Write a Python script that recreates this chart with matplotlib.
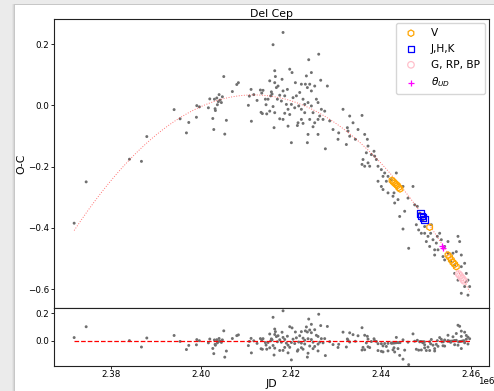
import numpy as np
import matplotlib
matplotlib.use("Agg")
import matplotlib.pyplot as plt
from matplotlib.patches import Rectangle
from matplotlib.ticker import FuncFormatter

# ---- O-C data (JD, O-C in days) ----
jd_all = np.array([
    2371780, 2374450, 2384070, 2386740, 2387930, 2394000, 2395330, 2396740,
    2397260, 2398960, 2399040, 2399620, 2401620, 2401930, 2402600, 2402820,
    2402960, 2403110, 2403180, 2403490, 2403620, 2403840, 2404000, 2404220,
    2404510, 2404730, 2405040, 2405260, 2405620, 2406950, 2407930, 2408290,
    2410510, 2410730, 2411110, 2411180, 2411710, 2412440, 2413180, 2413330,
    2413480, 2413620, 2413770, 2414290, 2414440, 2414590,
    2418218, 2415996, 2426144, 2423922, 2424514, 2420218, 2419700, 2426588,
    2428069, 2416366, 2416515, 2415255, 2417996, 2416366, 2417107, 2416737,
    2415626, 2417477, 2416959, 2415996, 2417848, 2418959, 2420070, 2415255,
    2416366, 2417477, 2418589, 2418218, 2419329, 2416218, 2420070, 2421551,
    2421403, 2422292, 2422662, 2423033, 2423773, 2424514, 2423181, 2423625,
    2424144, 2422292, 2421922, 2420959, 2421181, 2420440, 2425625, 2425996,
    2426736, 2427477, 2425996, 2425255, 2424884, 2423773, 2423625, 2425996,
    2427625, 2428588, 2427107, 2414885, 2415478, 2415774, 2419329, 2419700,
    2420811, 2421699, 2424514, 2424884, 2423033, 2422292, 2426366, 2424144,
    2418589, 2419181, 2418218, 2422662, 2425255, 2423403,
    2430588, 2431551, 2433032, 2435773, 2432662, 2433032, 2432291, 2434291,
    2436365, 2436958, 2436736, 2435995, 2437106, 2437476, 2436365, 2435773,
    2437847, 2438587, 2438958, 2439328, 2440069, 2440810, 2440439, 2441550,
    2441180, 2439328, 2440069, 2440439, 2442291, 2442661, 2443032, 2443772,
    2442883, 2441550, 2443402, 2444883, 2430440, 2432514, 2434884, 2437106,
    2438439, 2433773, 2429329,
    2447105, 2445994, 2447476, 2448068, 2448587, 2449328, 2449698, 2448365,
    2448957, 2450439, 2451031, 2451550, 2452290, 2453401, 2452661, 2451920,
    2450068, 2450809, 2451920, 2453772, 2454142, 2454883, 2455994, 2457105,
    2457475, 2455476, 2456364, 2457846, 2458586, 2458957, 2456364, 2457105,
    2459327, 2459697, 2457846, 2459327, 2444883, 2446143, 2444143, 2445254,
    2447846, 2449698, 2451179, 2452513, 2453031, 2454142, 2454883, 2456735,
    2457846, 2458957, 2458586,
])
oc_all = np.array([
    -0.385, -0.250, -0.176, -0.183, -0.102, -0.014, -0.044, -0.090,
    -0.056, -0.039, -0.001, -0.005, -0.008, 0.021, -0.043, -0.079,
    0.020, -0.011, -0.017, 0.024, 0.002, 0.012, 0.035, 0.017,
    0.009, 0.028, 0.094, -0.094, -0.049, 0.045, 0.068, 0.074,
    0.000, 0.030, 0.052, -0.052, 0.035, 0.016, 0.050, -0.023,
    0.040, -0.027, 0.049, 0.020, 0.002, -0.028,
    0.238, 0.198, 0.167, 0.149, 0.107, 0.107, 0.118, 0.082,
    0.063, 0.113, 0.094, 0.080, 0.085, 0.074, 0.063, 0.058,
    0.044, 0.033, 0.020, -0.004, 0.014, 0.003, 0.003, -0.019,
    -0.024, -0.044, -0.026, -0.046, -0.068, -0.073, -0.122, -0.057,
    -0.066, -0.046, -0.059, 0.003, 0.009, 0.047, 0.069, 0.058,
    0.069, 0.069, 0.042, 0.074, 0.031, 0.025, 0.020, 0.009,
    -0.013, -0.019, -0.046, -0.057, -0.070, -0.095, -0.122, -0.095,
    -0.142, -0.051, -0.046, 0.020, 0.031, 0.037, -0.013, -0.030,
    -0.008, -0.002, -0.002, -0.024, -0.024, -0.013, -0.035, -0.046,
    0.031, 0.052, 0.047, 0.020, 0.063, 0.096,
    -0.090, -0.013, -0.035, -0.033, -0.084, -0.101, -0.128, -0.111,
    -0.095, -0.111, -0.155, -0.177, -0.188, -0.199, -0.199, -0.193,
    -0.161, -0.166, -0.177, -0.199, -0.210, -0.221, -0.232, -0.232,
    -0.248, -0.248, -0.265, -0.275, -0.243, -0.297, -0.319, -0.308,
    -0.286, -0.286, -0.221, -0.265, -0.111, -0.073, -0.079, -0.133,
    -0.150, -0.057, -0.079,
    -0.265, -0.303, -0.325, -0.330, -0.352, -0.374, -0.396, -0.407,
    -0.418, -0.428, -0.418, -0.439, -0.450, -0.439, -0.472, -0.472,
    -0.445, -0.461, -0.489, -0.494, -0.505, -0.483, -0.483, -0.428,
    -0.445, -0.510, -0.521, -0.527, -0.516, -0.549, -0.549, -0.571,
    -0.571, -0.592, -0.614, -0.620, -0.404, -0.467, -0.363, -0.346,
    -0.390, -0.418, -0.390, -0.428, -0.418, -0.461, -0.445, -0.478,
    -0.489, -0.576, -0.592,
])

# V-band timings
jd_v = np.array([2442440, 2442736, 2443032, 2443329, 2443625, 2443921, 2444218,
                 2450809,
                 2454883, 2455254, 2455624, 2455994, 2456364, 2456735])
oc_v = np.array([-0.245, -0.250, -0.254, -0.258, -0.262, -0.268, -0.273,
                 -0.398,
                 -0.489, -0.496, -0.505, -0.513, -0.519, -0.527])

# J, H, K timings
jd_jhk = np.array([2448810, 2449032, 2449328, 2449624])
oc_jhk = np.array([-0.354, -0.361, -0.367, -0.373])

# Gaia G, RP, BP timings
jd_gaia = np.array([2457254, 2457550, 2457846, 2458142, 2458438])
oc_gaia = np.array([-0.551, -0.556, -0.562, -0.567, -0.573])

# Interferometric angular diameter timings
jd_theta = np.array([2453550, 2453846])
oc_theta = np.array([-0.461, -0.467])

# quadratic ephemeris correction: c0 + c1*u + c2*u^2, u = (JD - JD_REF) / SCALE
JD_REF = 2415000.0
SCALE = 1.0e4
fit_coef = [-0.02783, -0.0185, 0.031]


def fit_oc(jd):
    return np.polyval(fit_coef, (np.asarray(jd, dtype=float) - JD_REF) / SCALE)


x_ticks = [2.38e6, 2.40e6, 2.42e6, 2.44e6, 2.46e6]
y_ticks_main = [-0.6, -0.4, -0.2, 0.0, 0.2]
y_ticks_res = [0.0, 0.2]

W, H = 494, 391
fig = plt.figure(figsize=(W / 100, H / 100), dpi=100, facecolor="#ebebeb")

# white page with a soft shadow on the left
for i, a in enumerate([0.03, 0.05, 0.07]):
    fig.patches.append(Rectangle(((12 + i) / W, 0), 1, (H - 4) / H,
                                 transform=fig.transFigure, facecolor="black",
                                 alpha=a, edgecolor="none", zorder=-3))
fig.patches.append(Rectangle((15 / W, 0), 1, (H - 5) / H,
                             transform=fig.transFigure, facecolor="white",
                             edgecolor="none", zorder=-2))

left, right = 54 / W, 489 / W
top_main, mid, bottom = 1 - 19 / H, 1 - 308 / H, 1 - 366 / H
ax = fig.add_axes([left, mid, right - left, top_main - mid])
axr = fig.add_axes([left, bottom, right - left, mid - bottom], sharex=ax)

gray = "#707070"
ax.scatter(jd_all, oc_all, s=4.5, color=gray, edgecolors="none", zorder=2)

jd_line = np.linspace(jd_all.min(), jd_all.max(), 400)
ax.plot(jd_line, fit_oc(jd_line), color="red", ls=":", lw=0.7, alpha=0.55, zorder=3)

ax.scatter(jd_v, oc_v, marker="h", s=22, facecolors="none", edgecolors="orange",
           linewidths=0.9, label="V", zorder=4)
ax.scatter(jd_jhk, oc_jhk, marker="s", s=22, facecolors="none", edgecolors="blue",
           linewidths=0.9, label="J,H,K", zorder=4)
ax.scatter(jd_gaia, oc_gaia, marker="o", s=22, facecolors="none", edgecolors="pink",
           linewidths=0.9, label="G, RP, BP", zorder=4)
ax.scatter(jd_theta, oc_theta, marker="+", s=25, color="magenta",
           linewidths=0.9, label=r"$\theta_{UD}$", zorder=5)

ax.set_title("Del Cep", fontsize=7.8, pad=1.5)
ax.set_ylabel("O-C", fontsize=7.8, labelpad=1.5)
ax.set_ylim(-0.662, 0.282)
ax.set_yticks(y_ticks_main)
ax.legend(loc="upper right", fontsize=7.6, framealpha=0.8, borderpad=0.45,
          labelspacing=0.55, handletextpad=0.9, borderaxespad=0.4)
ax.tick_params(axis="x", labelbottom=False, bottom=False)

# residuals from the fitted ephemeris
jd_res = np.concatenate([jd_all, jd_v, jd_jhk, jd_gaia, jd_theta])
oc_res = np.concatenate([oc_all, oc_v, oc_jhk, oc_gaia, oc_theta]) - fit_oc(jd_res)
axr.scatter(jd_res, oc_res, s=4.5, color=gray, edgecolors="none", zorder=2)
axr.plot([jd_all.min(), jd_all.max()], [0, 0], color="red", ls="--", lw=0.9, zorder=3)
axr.set_ylim(-0.18, 0.236)
axr.set_yticks(y_ticks_res)
axr.set_xlim(2.3673e6, 2.4640e6)
axr.set_xticks(x_ticks)
axr.xaxis.set_major_formatter(FuncFormatter(lambda v, pos: f"{v / 1e6:.2f}"))
axr.set_xlabel("JD", fontsize=7.8, labelpad=0)
fig.text(486 / W, 1 - 382 / H, "1e6", fontsize=6.3, ha="center", va="center")

for a in (ax, axr):
    a.tick_params(labelsize=6.3, length=2, width=0.6, pad=1.2)
    for s in a.spines.values():
        s.set_linewidth(0.8)
        s.set_color("#222222")

fig.savefig("out.png", dpi=100, facecolor=fig.get_facecolor())
